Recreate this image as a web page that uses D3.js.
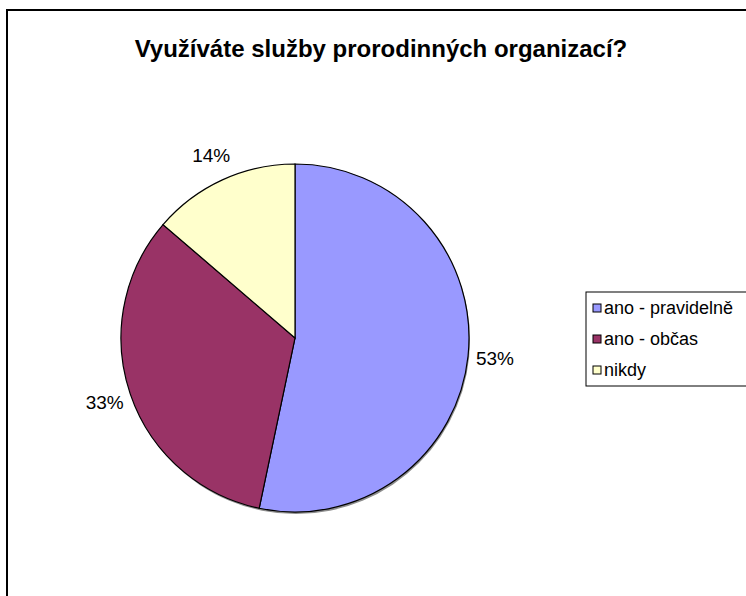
<!DOCTYPE html>
<html>
<head>
<meta charset="utf-8">
<script src="https://cdn.jsdelivr.net/npm/d3@7/dist/d3.min.js"></script>
<style>
  html, body { margin: 0; padding: 0; background: #fff; }
  svg { display: block; font-family: "Liberation Sans", Arial, sans-serif; }
</style>
</head>
<body>
<svg id="chart" width="746" height="596"></svg>
<script>
const title = "Využíváte služby prorodinných organizací?";
const categories = ["ano - pravidelně", "ano - občas", "nikdy"];
const values = [53.3, 33.0, 13.7];
const colors = ["#9999FF", "#993366", "#FFFFCC"];

const svg = d3.select("#chart");
const W = 746, H = 596;

// outer frame
svg.append("rect")
  .attr("x", 7).attr("y", 10)
  .attr("width", W + 20).attr("height", H + 20)
  .attr("fill", "#fff").attr("stroke", "#000").attr("stroke-width", 2);

// title
svg.append("text")
  .attr("x", 381).attr("y", 57)
  .attr("text-anchor", "middle")
  .attr("font-size", 24).attr("font-weight", "bold")
  .attr("fill", "#000")
  .text(title);

const cx = 295, cy = 338, R = 174;
const pie = d3.pie().sort(null).value(d => d)
  .startAngle(0).endAngle(2 * Math.PI);
const arcs = pie(values);
const arc = d3.arc().innerRadius(0).outerRadius(R);

const g = svg.append("g").attr("transform", `translate(${cx},${cy})`);
// soft shadow under the pie
g.append("circle")
  .attr("cx", 1).attr("cy", 2).attr("r", R)
  .attr("fill", "#8c8c8c");
g.selectAll("path.slice")
  .data(arcs)
  .join("path")
  .attr("class", "slice")
  .attr("d", arc)
  .attr("fill", (d, i) => colors[i])
  .attr("stroke", "#000")
  .attr("stroke-width", 1.2);

const total = d3.sum(values);
const fmt = v => Math.round(v / total * 100) + "%";
const fs = 19;
g.selectAll("text.lbl")
  .data(arcs)
  .join("text")
  .attr("class", "lbl")
  .attr("font-size", fs)
  .attr("fill", "#000")
  .attr("text-anchor", "middle")
  .attr("dominant-baseline", "central")
  .text(d => fmt(d.data))
  .each(function(d) {
    const a = (d.startAngle + d.endAngle) / 2;
    const s = Math.sin(a), c = -Math.cos(a);
    const r = R + 27;
    d3.select(this).attr("x", r * s).attr("y", r * c);
  });

// legend
const lx = 586, ly = 292, rowH = 31;
svg.append("rect")
  .attr("x", lx).attr("y", ly)
  .attr("width", 200).attr("height", 94)
  .attr("fill", "#fff").attr("stroke", "#000").attr("stroke-width", 1);
const items = svg.append("g").selectAll("g")
  .data(categories)
  .join("g")
  .attr("transform", (d, i) => `translate(${lx + 7},${ly + 16 + i * rowH})`);
items.append("rect")
  .attr("x", 0).attr("y", -4)
  .attr("width", 8).attr("height", 8)
  .attr("fill", (d, i) => colors[i])
  .attr("stroke", "#000").attr("stroke-width", 1);
items.append("text")
  .attr("x", 11).attr("y", 0)
  .attr("dominant-baseline", "central")
  .attr("font-size", 18)
  .attr("fill", "#000")
  .text(d => d);
</script>
</body>
</html>
